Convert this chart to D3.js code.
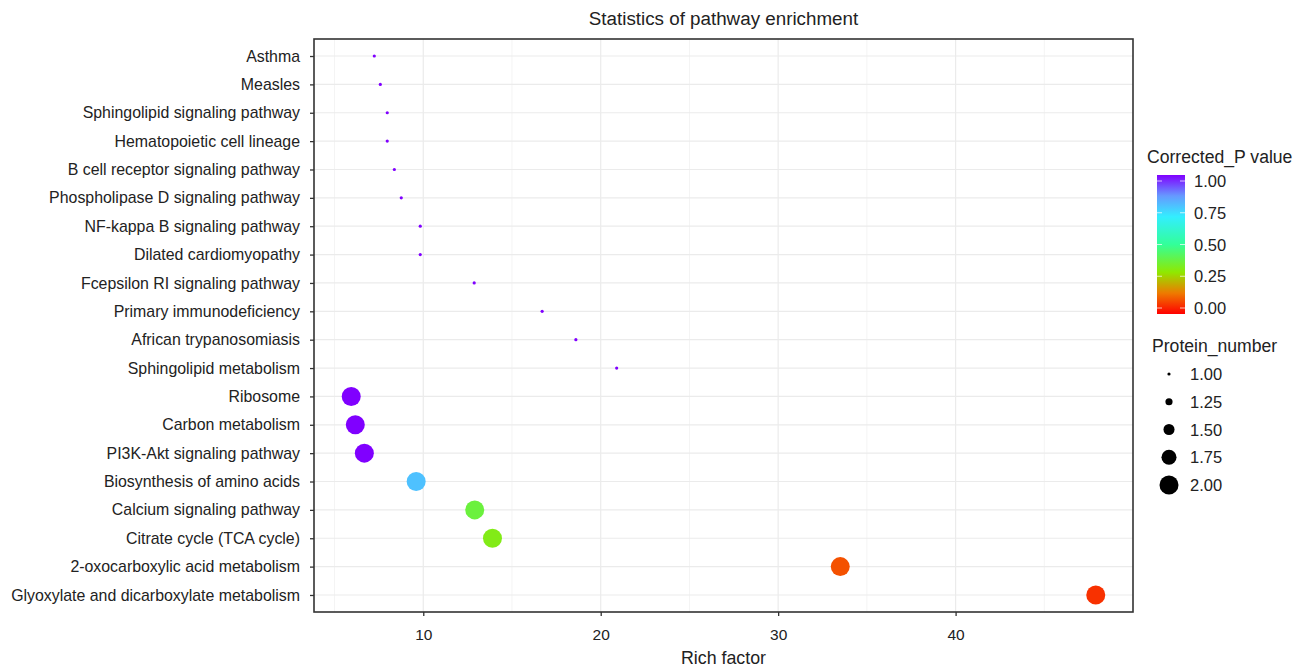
<!DOCTYPE html>
<html>
<head>
    <meta charset="utf-8">
    <script src="https://cdn.jsdelivr.net/npm/d3@7"></script>
    <style>
        * { margin: 0; padding: 0; }
        body { background: #fff; }
        svg { font-family: "Liberation Sans", Arial, sans-serif; }
    </style>
</head>
<body>
<svg id="chart" width="1303" height="668"></svg>
<script>
    var pathways = ["Asthma", "Measles", "Sphingolipid signaling pathway", "Hematopoietic cell lineage",
        "B cell receptor signaling pathway", "Phospholipase D signaling pathway", "NF-kappa B signaling pathway",
        "Dilated cardiomyopathy", "Fcepsilon RI signaling pathway", "Primary immunodeficiency",
        "African trypanosomiasis", "Sphingolipid metabolism", "Ribosome", "Carbon metabolism",
        "PI3K-Akt signaling pathway", "Biosynthesis of amino acids", "Calcium signaling pathway",
        "Citrate cycle (TCA cycle)", "2-oxocarboxylic acid metabolism", "Glyoxylate and dicarboxylate metabolism"];
    var richFactor = [7.24, 7.58, 7.97, 7.97, 8.37, 8.76, 9.83, 9.83, 12.87, 16.7,
        18.6, 20.9, 5.94, 6.17, 6.68, 9.6, 12.9, 13.9, 33.5, 47.9];
    var pValue = [1, 1, 1, 1, 1, 1, 1, 1, 1, 1,
        1, 1, 1, 1, 1, 0.78, 0.38, 0.33, 0.1, 0.06];
    var proteinNumber = [1, 1, 1, 1, 1, 1, 1, 1, 1, 1,
        1, 1, 2, 2, 2, 2, 2, 2, 2, 2];
    var xTicks = [10, 20, 30, 40];
    var pTicks = [1.00, 0.75, 0.50, 0.25, 0.00];
    var sizeTicks = [1.00, 1.25, 1.50, 1.75, 2.00];

    var data = pathways.map(function (d, i) {
        return { name: d, x: richFactor[i], p: pValue[i], n: proteinNumber[i] };
    });

    var margin = { top: 39, left: 314, right: 170, bottom: 56 };
    var width = 1303 - margin.left - margin.right,
        height = 668 - margin.top - margin.bottom;

    var svg = d3.select("#chart");
    var g = svg.append("g").attr("transform", "translate(" + margin.left + "," + margin.top + ")");

    var xMin = d3.min(richFactor), xMax = d3.max(richFactor), pad = (xMax - xMin) * 0.05;
    var x = d3.scaleLinear().domain([xMin - pad, xMax + pad]).range([0, width]);
    var y = d3.scalePoint().domain(pathways).range([0, height]).padding(0.6);

    var colorStops = [0, 0.15, 0.3, 0.5, 0.7, 0.85, 1];
    var colorVals = ["#FF0000", "#EE7A00", "#90E800", "#33FF99", "#33EEFF", "#6699FF", "#8000FF"];
    var color = d3.scaleLinear().domain(colorStops).range(colorVals);
    var radius = d3.scaleLinear().domain([1, 2]).range([1.6, 9.5]);

    // grid
    var minor = [5, 15, 25, 35, 45];
    g.selectAll(".minor").data(minor).enter().append("line")
        .attr("x1", function (d) { return x(d); }).attr("x2", function (d) { return x(d); })
        .attr("y1", 0).attr("y2", height)
        .attr("stroke", "#F4F4F4").attr("stroke-width", 1);
    g.selectAll(".major").data(xTicks).enter().append("line")
        .attr("x1", function (d) { return x(d); }).attr("x2", function (d) { return x(d); })
        .attr("y1", 0).attr("y2", height)
        .attr("stroke", "#EBEBEB").attr("stroke-width", 1.2);
    g.selectAll(".hgrid").data(pathways).enter().append("line")
        .attr("x1", 0).attr("x2", width)
        .attr("y1", function (d) { return y(d); }).attr("y2", function (d) { return y(d); })
        .attr("stroke", "#EBEBEB").attr("stroke-width", 1.2);

    // axes
    var xAxis = g.append("g").attr("transform", "translate(0," + height + ")")
        .call(d3.axisBottom(x).tickValues(xTicks).tickSize(4).tickPadding(13));
    var yAxis = g.append("g")
        .call(d3.axisLeft(y).tickSize(4).tickPadding(10));
    [xAxis, yAxis].forEach(function (a) {
        a.select(".domain").remove();
        a.selectAll(".tick line").attr("stroke", "#333").attr("stroke-width", 1.3);
        a.selectAll(".tick text").attr("fill", "#222");
    });
    yAxis.selectAll(".tick text").style("font-size", "15.9px");
    xAxis.selectAll(".tick text").style("font-size", "15.5px");

    // points
    g.selectAll("circle.pt").data(data).enter().append("circle")
        .attr("class", "pt")
        .attr("cx", function (d) { return x(d.x); })
        .attr("cy", function (d) { return y(d.name); })
        .attr("r", function (d) { return radius(d.n); })
        .attr("fill", function (d) { return color(d.p); });

    // border
    g.append("rect").attr("width", width).attr("height", height)
        .attr("fill", "none").attr("stroke", "#333").attr("stroke-width", 1.6);

    // titles
    svg.append("text").attr("x", margin.left + width / 2).attr("y", 25)
        .attr("text-anchor", "middle").attr("fill", "#222").style("font-size", "18.8px")
        .text("Statistics of pathway enrichment");
    svg.append("text").attr("x", margin.left + width / 2).attr("y", 664)
        .attr("text-anchor", "middle").attr("fill", "#222").style("font-size", "17.8px")
        .text("Rich factor");

    // color legend
    var lg = svg.append("g").attr("transform", "translate(1147,0)");
    lg.append("text").attr("x", 0).attr("y", 163).attr("fill", "#222").style("font-size", "17.6px")
        .text("Corrected_P value");
    var defs = svg.append("defs");
    var grad = defs.append("linearGradient").attr("id", "pgrad")
        .attr("x1", "0").attr("y1", "1").attr("x2", "0").attr("y2", "0");
    colorStops.forEach(function (s, i) {
        grad.append("stop").attr("offset", s).attr("stop-color", colorVals[i]);
    });
    var pScale = d3.scaleLinear().domain([0, 1]).range([308, 181]);
    lg.append("rect").attr("x", 10).attr("y", pScale(1) - 6).attr("width", 28)
        .attr("height", pScale(0) - pScale(1) + 12).attr("fill", "url(#pgrad)");
    pTicks.forEach(function (t) {
        lg.append("line").attr("x1", 10).attr("x2", 15).attr("y1", pScale(t)).attr("y2", pScale(t))
            .attr("stroke", "#fff").attr("stroke-opacity", 0.7);
        lg.append("line").attr("x1", 33).attr("x2", 38).attr("y1", pScale(t)).attr("y2", pScale(t))
            .attr("stroke", "#fff").attr("stroke-opacity", 0.7);
        lg.append("text").attr("x", 47).attr("y", pScale(t) + 6).attr("fill", "#222")
            .style("font-size", "16.5px").text(t.toFixed(2));
    });

    // size legend
    lg.append("text").attr("x", 5).attr("y", 352).attr("fill", "#222").style("font-size", "17.6px")
        .text("Protein_number");
    var sY = d3.scalePoint().domain(sizeTicks).range([374, 485]);
    sizeTicks.forEach(function (t) {
        lg.append("circle").attr("cx", 22).attr("cy", sY(t)).attr("r", radius(t)).attr("fill", "#000");
        lg.append("text").attr("x", 43).attr("y", sY(t) + 6).attr("fill", "#222")
            .style("font-size", "16.5px").text(t.toFixed(2));
    });
</script>
</body>
</html>
